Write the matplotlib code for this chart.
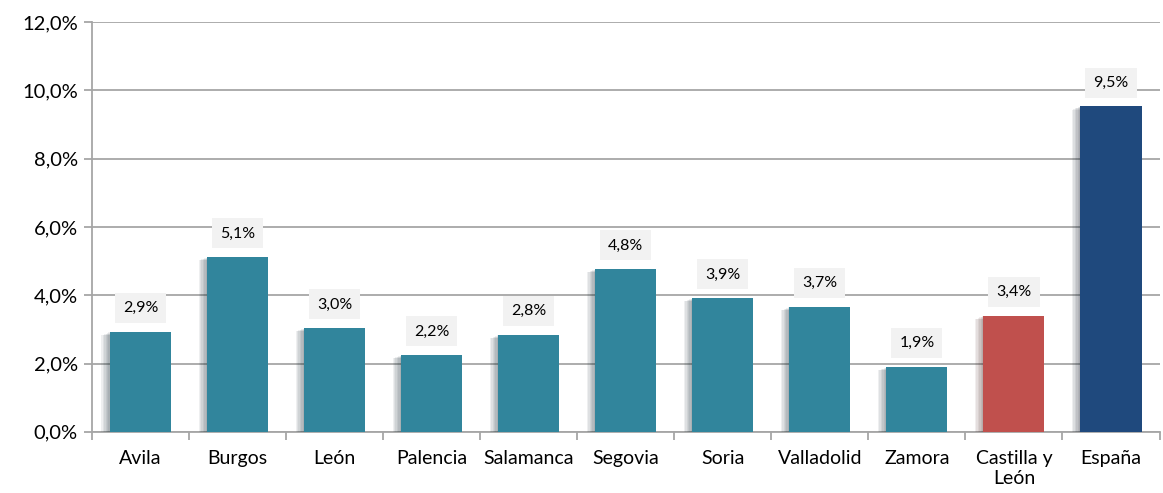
import matplotlib.pyplot as plt
import matplotlib.patheffects as path_effects
from matplotlib.ticker import FuncFormatter

# datos
provincias = ['Avila', 'Burgos', 'León', 'Palencia', 'Salamanca', 'Segovia',
              'Soria', 'Valladolid', 'Zamora', 'Castilla y\nLeón', 'España']
valores = [2.9, 5.1, 3.0, 2.2, 2.8, 4.8, 3.9, 3.7, 1.9, 3.4, 9.5]
alturas = [2.93, 5.12, 3.04, 2.25, 2.84, 4.77, 3.92, 3.66, 1.90, 3.40, 9.54]
colores = ['#31859c'] * 9 + ['#c0504d', '#1f497d']

plt.rcParams['font.family'] = ['Lato', 'DejaVu Sans']

fig = plt.figure(figsize=(11.63, 4.93), dpi=100)
ax = fig.add_axes([0.079, 0.124, 0.918, 0.831])

# sombra difusa a la izquierda
sombra = [path_effects.SimplePatchShadow(offset=(-d, -d * 0.4), alpha=0.07) for d in range(1, 7)]
x = range(len(provincias))
barras = ax.bar(x, alturas, width=0.63, color=colores, zorder=3,
                path_effects=sombra + [path_effects.Normal()])

# etiquetas con caja gris
for i, (h, v) in enumerate(zip(alturas, valores)):
    ax.annotate(f'{v:.1f}%'.replace('.', ','), (i, h), xytext=(0, 17),
                textcoords='offset points', ha='center', va='center', fontsize=11.5,
                bbox=dict(boxstyle='square,pad=0.5', fc='#f2f2f2', ec='none'), zorder=4)

ax.set_ylim(0, 12)
ax.set_xlim(-0.5, len(provincias) - 0.5)
ax.set_yticks(range(0, 13, 2))
ax.yaxis.set_major_formatter(FuncFormatter(lambda v, p: f'{v:.1f}%'.replace('.', ',')))
ax.grid(axis='y', color='#a6a6a6', linewidth=1.3, zorder=0)
ax.set_xticks(list(x))
ax.set_xticklabels(provincias, fontsize=14)
ax.set_xticks([i + 0.5 for i in range(-1, len(provincias))], minor=True)
ax.tick_params(axis='x', which='major', length=0, pad=13)
ax.tick_params(axis='x', which='minor', length=6, color='#a6a6a6', width=1.3)
ax.tick_params(axis='y', length=6, color='#a6a6a6', width=1.3, labelsize=14.5, pad=4)

for s in ['top', 'right']:
    ax.spines[s].set_visible(False)
for s in ['left', 'bottom']:
    ax.spines[s].set_color('#a6a6a6')
    ax.spines[s].set_linewidth(1.3)

plt.savefig('out.png')
